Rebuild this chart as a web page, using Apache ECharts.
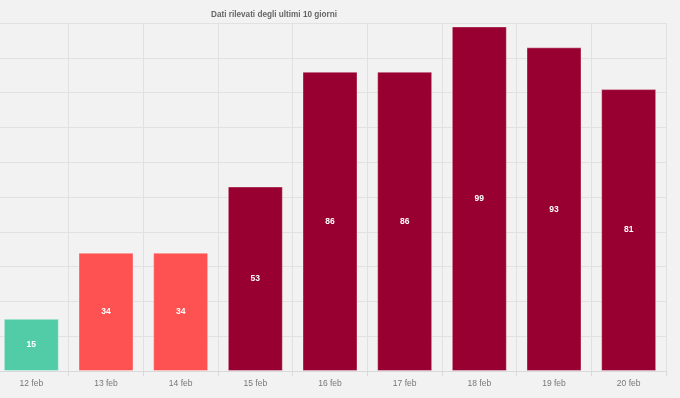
<!DOCTYPE html>
<html>
<head>
<meta charset="utf-8">
<script src="https://cdn.jsdelivr.net/npm/echarts@6/dist/echarts.min.js"></script>
<style>
  html, body { margin: 0; padding: 0; background: #f2f2f2; overflow: hidden; }
  /* il grafico originale e' tagliato a sinistra: sposto il contenitore */
  #chart { width: 686px; height: 398px; margin-left: -6px; }
</style>
</head>
<body>
<div id="chart"></div>
<script>
var giorni = ['12 feb', '13 feb', '14 feb', '15 feb', '16 feb', '17 feb', '18 feb', '19 feb', '20 feb'];
var valori = [15, 34, 34, 53, 86, 86, 99, 93, 81];

// colore per fascia di valore
function coloreBarra(v) {
  if (v < 20) return '#52cca6';
  if (v < 50) return '#fe5252';
  return '#970031';
}

var myChart = echarts.init(document.getElementById('chart'));

var option = {
  backgroundColor: '#f2f2f2',
  animation: false,
  textStyle: { fontFamily: 'Liberation Sans, Arial, sans-serif' },
  title: {
    text: 'Dati rilevati degli ultimi 10 giorni',
    left: 212,
    top: 6,
    textStyle: { fontSize: 8.2, fontWeight: 'bold', color: '#666' }
  },
  grid: {
    left: 0,
    right: 14,
    top: 23,
    bottom: 27,
    containLabel: false,
    show: false
  },
  xAxis: {
    type: 'category',
    data: giorni,
    boundaryGap: true,
    axisLine: { show: true, lineStyle: { color: '#d9d9d9' } },
    axisTick: { show: true, length: 5, lineStyle: { color: '#d9d9d9' } },
    axisLabel: { color: '#777', fontSize: 8.5, margin: 8 },
    splitLine: { show: true, lineStyle: { color: '#e1e1e1' } }
  },
  yAxis: {
    type: 'value',
    min: 0,
    max: 100,
    interval: 10,
    axisLabel: { show: false },
    axisLine: { show: false },
    axisTick: { show: false },
    splitLine: { show: true, lineStyle: { color: '#e1e1e1' } }
  },
  series: [
    {
      type: 'bar',
      data: valori,
      barWidth: 55,
      itemStyle: {
        color: function (p) { return coloreBarra(p.value); },
        borderColor: 'rgba(255,255,255,0.35)',
        borderWidth: 1
      },
      label: {
        show: true,
        position: 'inside',
        color: '#fff',
        fontSize: 8.5,
        fontWeight: 'bold'
      }
    }
  ]
};

myChart.setOption(option);
</script>
</body>
</html>
